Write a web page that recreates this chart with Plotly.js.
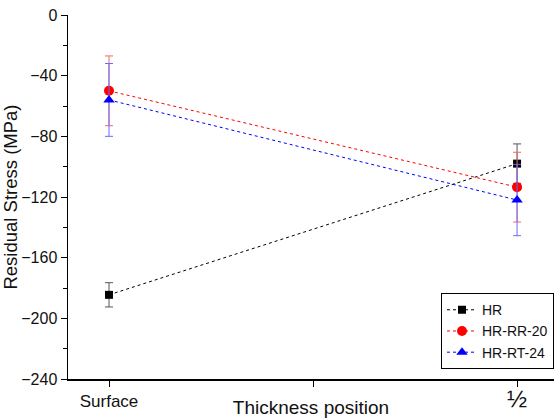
<!DOCTYPE html>
<html><head><meta charset="utf-8">
<script src="https://cdn.plot.ly/plotly-3.0.1.min.js"></script>
<style>html,body{margin:0;padding:0;background:#fff}#c{width:554px;height:418px}</style>
</head><body><div id="c"></div>
<script>
const categories = ['Surface', '½'];
const seriesNames = ['HR', 'HR-RR-20', 'HR-RT-24'];
const hrValues = [-184.5, -98];
const hrErrors = [8, 13];
const rrValues = [-50, -113.5];
const rrErrors = [23, 23];
const rtValues = [-56, -122];
const rtErrors = [24, 23.5];
const yTicks = [0, -40, -80, -120, -160, -200, -240];

const xPos = categories.map((c, i) => i);
function tr(name, y, err, color, errColor, symbol, size) {
  return {
    type: 'scatter', mode: 'lines+markers', name: name,
    x: xPos, y: y,
    line: {color: color, width: 1, dash: 'dot'},
    marker: {color: color, symbol: symbol, size: size},
    error_y: {type: 'data', array: err, visible: true, color: errColor, thickness: 1, width: 4}
  };
}
const data = [
  tr(seriesNames[0], hrValues, hrErrors, '#000000', '#555555', 'square', 8),
  tr(seriesNames[1], rrValues, rrErrors, '#ff0000', '#f06a6a', 'circle', 10),
  tr(seriesNames[2], rtValues, rtErrors, '#0000ff', '#6b6bff', 'triangle-up', 10)
];
const layout = {
  width: 554, height: 418,
  margin: {l: 68, r: 0, t: 15, b: 39},
  paper_bgcolor: '#fff', plot_bgcolor: '#fff',
  font: {family: 'Arial, Liberation Sans, sans-serif', color: '#111'},
  showlegend: true,
  legend: {x: 1, xanchor: 'right', y: 0.027, yanchor: 'bottom', bordercolor: '#000', borderwidth: 1,
           bgcolor: '#fff', font: {size: 14, color: '#111'}, tracegroupgap: 0},
  xaxis: {
    range: [-0.1005, 1.0905], tickvals: [0, 0.5, 1],
    ticktext: [categories[0], '', '<span style="font-size:24px">' + categories[1] + '</span>'],
    showgrid: false, zeroline: false, showline: true, linecolor: '#000', linewidth: 1.5,
    ticks: 'outside', ticklen: 6, tickcolor: '#000', tickfont: {size: 17},
    title: {text: 'Thickness position', font: {size: 19}, standoff: 0}
  },
  yaxis: {
    range: [-240, 0], tickvals: yTicks, showgrid: false, zeroline: false,
    showline: true, linecolor: '#000', linewidth: 1.5,
    ticks: 'outside', ticklen: 6, tickcolor: '#000', tickfont: {size: 16},
    minor: {dtick: 20, tick0: 0, ticks: 'outside', ticklen: 4, tickcolor: '#000'},
    title: {text: 'Residual Stress (MPa)', font: {size: 18.5}, standoff: 6}
  }
};
Plotly.newPlot('c', data, layout, {displayModeBar: false, staticPlot: true});
</script></body></html>
